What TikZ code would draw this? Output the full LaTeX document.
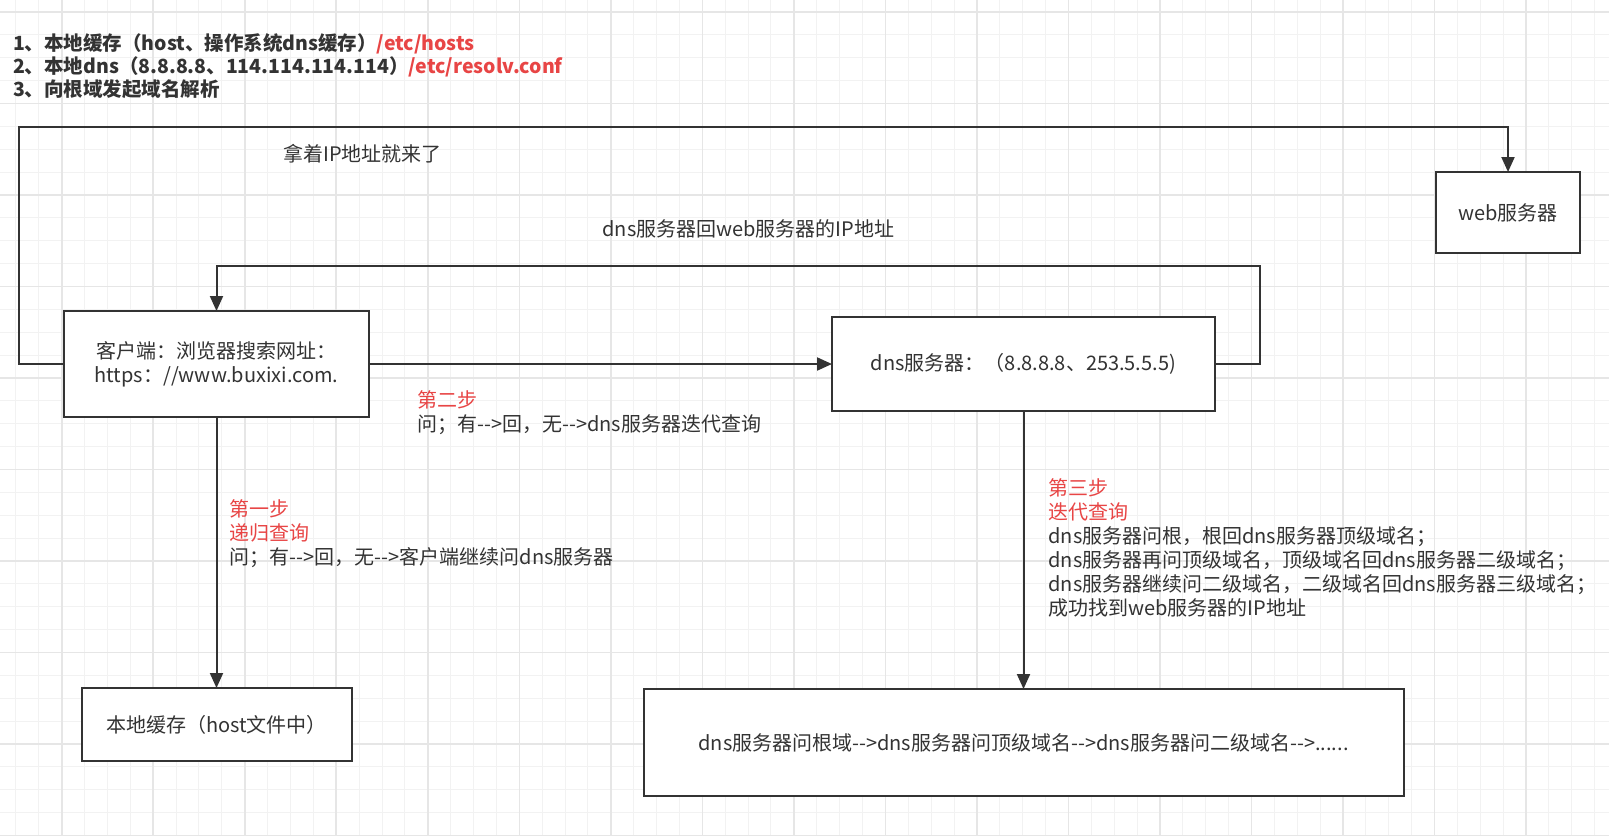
\documentclass[tikz,border=0pt]{standalone}
\usepackage{fontspec}
\setmainfont{Noto Sans CJK SC}[Ligatures=TeXOff]
\usepackage{xcolor}
\usetikzlibrary{arrows.meta, positioning}

\definecolor{linecol}{HTML}{333333}
\definecolor{txtcol}{HTML}{333333}
\definecolor{redtxt}{HTML}{E84545}
\definecolor{gridminor}{HTML}{F2F2F2}
\definecolor{gridmajor}{HTML}{E6E6E6}
\newcommand{\redpart}[1]{\textcolor{redtxt}{#1}}

\begin{document}
\begin{tikzpicture}[
  x=0.5pt, y=-0.5pt,
  every node/.style={font=\fontsize{10pt}{12pt}\selectfont, text=txtcol},
  box/.style={rectangle, draw=linecol, line width=1pt, fill=white,
              inner sep=0pt, outer sep=0pt, align=center},
  lbl/.style={inner sep=0pt, align=left, anchor=west},
  hdr/.style={lbl, font=\fontsize{9.75pt}{11.7pt}\selectfont\bfseries},
  arr/.style={-{Triangle[length=7.5pt, width=6.5pt]}, line width=1pt, draw=linecol},
]
  \useasboundingbox (0,0) rectangle (1609,836);

  % Grid
  \fill[white] (0,0) rectangle (1609,836);
  \foreach \i in {0,...,69}
    \draw[gridminor, line width=0.5pt] ({15.94+22.88*\i},0) -- ({15.94+22.88*\i},836);
  \foreach \j in {0,...,36}
    \draw[gridminor, line width=0.5pt] (0,{12+22.875*\j}) -- (1609,{12+22.875*\j});
  \foreach \i in {2,6,...,66}
    \draw[gridmajor, line width=0.8pt] ({15.94+22.88*\i},0) -- ({15.94+22.88*\i},836);
  \foreach \j in {0,4,...,36}
    \draw[gridmajor, line width=0.8pt] (0,{12+22.875*\j}) -- (1609,{12+22.875*\j});

  % Boxes
  \node[box, minimum width=152.5pt, minimum height=53pt] (client) at (216.5,364)
       {客户端：浏览器搜索网址：\\https：//www.buxixi.com.};
  \node[box, minimum width=191.5pt, minimum height=47pt, right=231.5pt of client] (dns)
       {dns服务器：（8.8.8.8、253.5.5.5)};
  \node[box, minimum width=72pt, minimum height=40.5pt] (web) at (1508,212.5) {web服务器};
  \node[box, minimum width=135pt, minimum height=36.5pt, below=135.5pt of client] (cache)
       {本地缓存（host文件中）};
  \node[box, minimum width=380pt, minimum height=53.5pt, below=139pt of dns] (chain)
       {dns服务器问根域-->dns服务器问顶级域名-->dns服务器问二级域名-->......};

  % Arrows
  \coordinate (ipturn)   at (19,127);
  \coordinate (backturn) at (1260,266);
  \draw[arr] (client.west)  -| (ipturn) -| (web.north);
  \draw[arr] (dns.east)     -| (backturn) -| (client.north);
  \draw[arr] (client.east)  -- (dns.west);
  \draw[arr] (client.south) -- (cache.north);
  \draw[arr] (dns.south)    -- (chain.north);

  % Labels
  \node[hdr] (notes) at (12.7,66.2)
       {1、本地缓存（host、操作系统dns缓存）\redpart{/etc/hosts}\\
        2、本地dns（8.8.8.8、114.114.114.114）\redpart{/etc/resolv.conf}\\
        3、向根域发起域名解析};
  \node[lbl] (iplbl)   at (283,153.3) {拿着IP地址就来了};
  \node[lbl] (backlbl) at (602,229)   {dns服务器回web服务器的IP地址};
  \node[lbl] (step2) at (417,412.2)
       {\redpart{第二步}\\问；有-->回，无-->dns服务器迭代查询};
  \node[lbl] (step1) at (229.5,533.8)
       {\redpart{第一步}\\\redpart{递归查询}\\问；有-->回，无-->客户端继续问dns服务器};
  \node[lbl] (step3) at (1048,548)
       {\redpart{第三步}\\\redpart{迭代查询}\\
        dns服务器问根，根回dns服务器顶级域名；\\
        dns服务器再问顶级域名，顶级域名回dns服务器二级域名；\\
        dns服务器继续问二级域名，二级域名回dns服务器三级域名；\\
        成功找到web服务器的IP地址};
\end{tikzpicture}
\end{document}
